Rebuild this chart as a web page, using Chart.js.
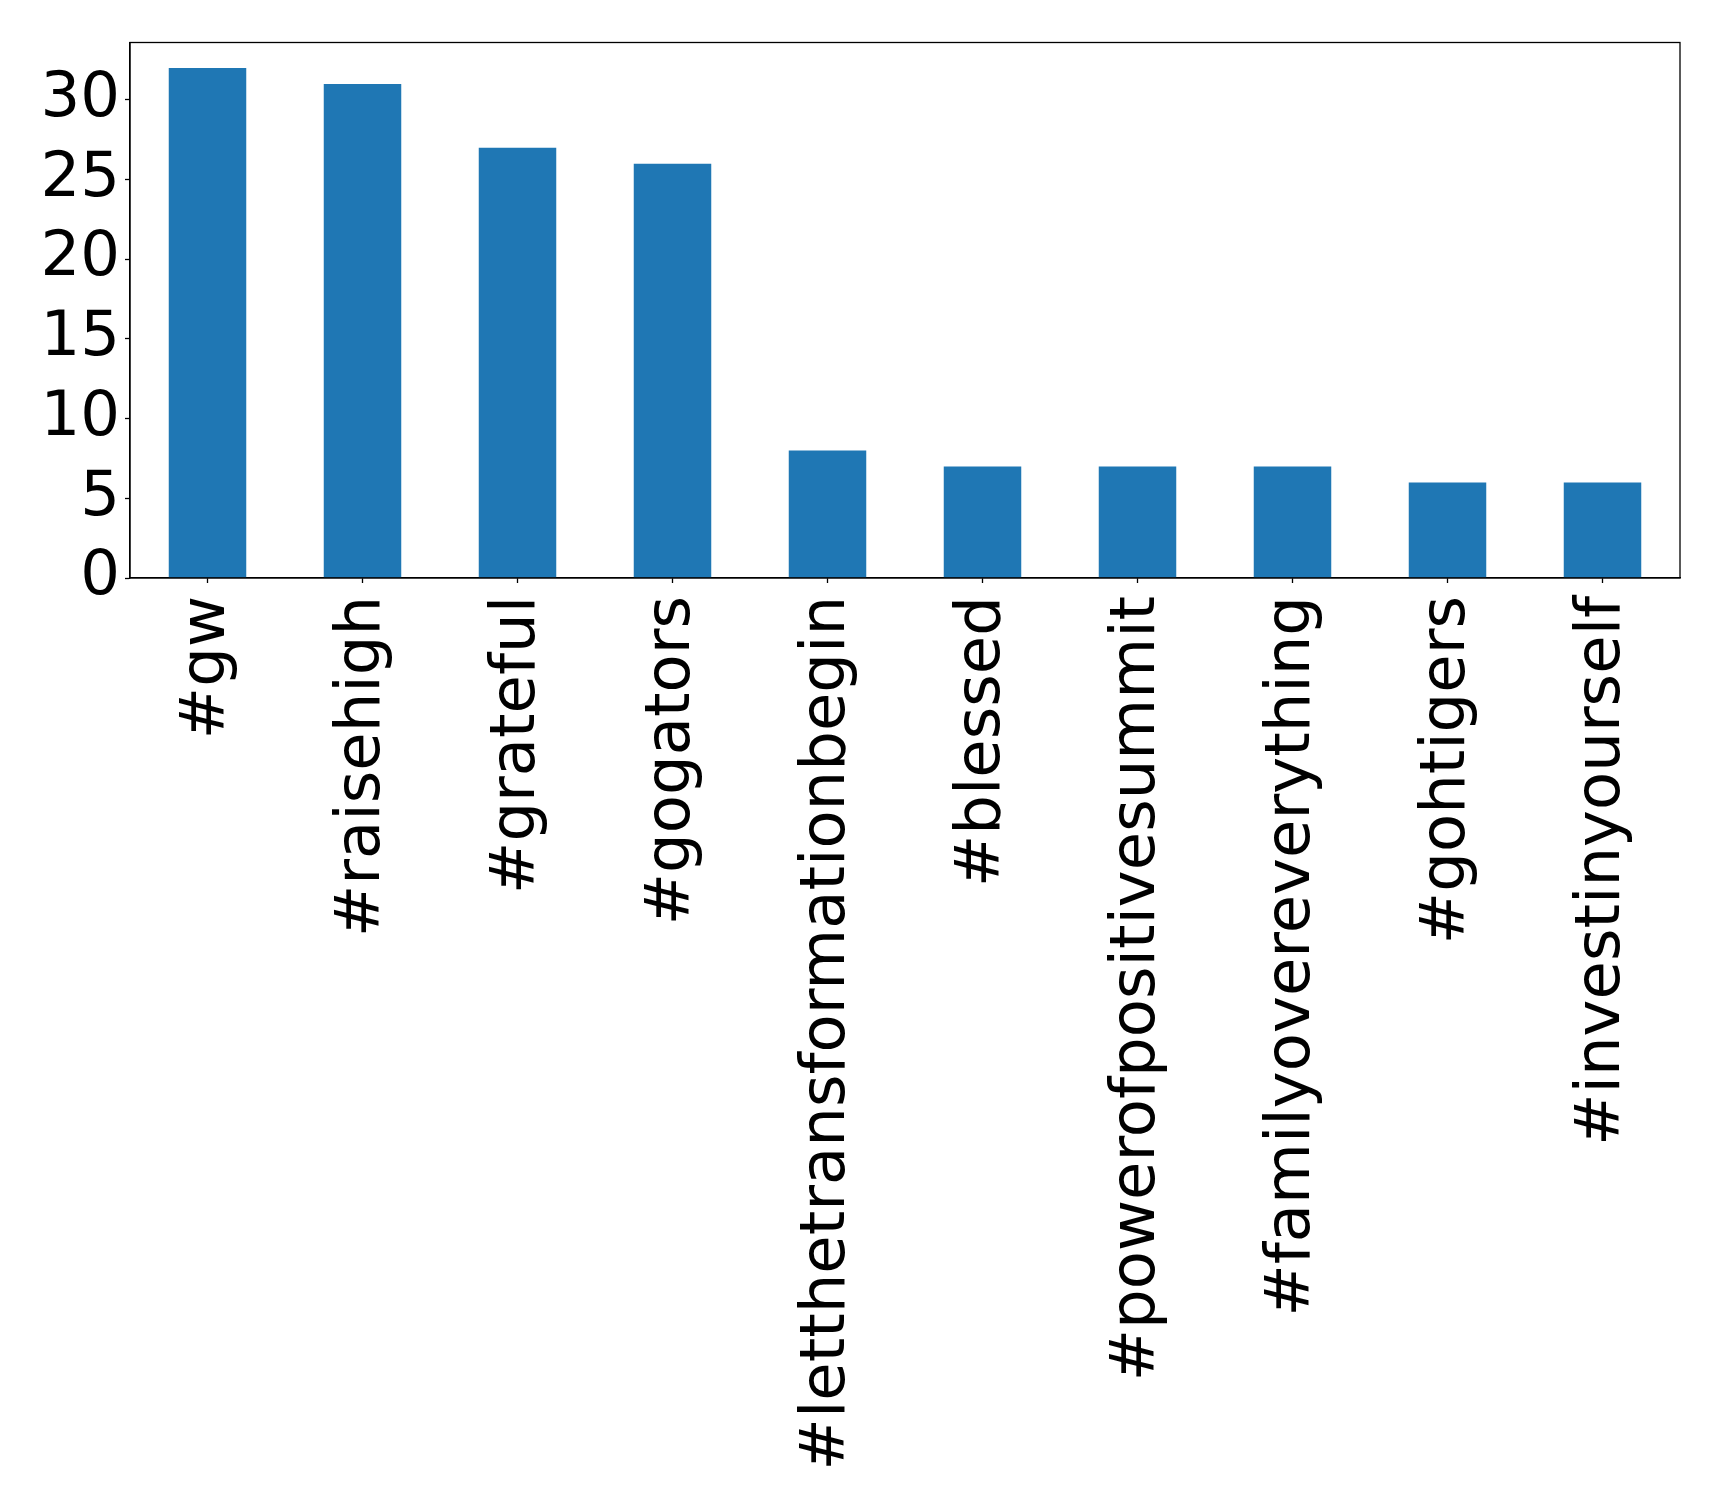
<!DOCTYPE html>
<html>
<head>
<meta charset="utf-8">
<script src="https://cdn.jsdelivr.net/npm/chart.js@4/dist/chart.umd.min.js"></script>
<style>
  html, body { margin: 0; padding: 0; background: #fff; }
  #wrap { width: 1719px; height: 1502px; position: relative; }
</style>
</head>
<body>
<div id="wrap"><canvas id="myChart"></canvas></div>
<script>
const hashtags = ["#gw", "#raisehigh", "#grateful", "#gogators", "#letthetransformationbegin",
  "#blessed", "#powerofpositivesummit", "#familyovereverything", "#gohtigers", "#investinyourself"];
const counts = [32, 31, 27, 26, 8, 7, 7, 7, 6, 6];
const yMax = 33.6;  // matplotlib adds 5% headroom above 32
const yStep = 5;

const tickFont = { family: "'DejaVu Sans'", size: 62.5 };

// draws the top and right edges of the axes box
const frame = {
  id: 'frame',
  afterDraw(chart) {
    const { ctx, chartArea: a } = chart;
    ctx.save();
    ctx.strokeStyle = '#000';
    ctx.lineWidth = 1.3;
    ctx.strokeRect(a.left, a.top, a.right - a.left, a.bottom - a.top);
    ctx.restore();
  }
};

new Chart(document.getElementById('myChart'), {
  type: 'bar',
  data: {
    labels: hashtags,
    datasets: [{
      data: counts,
      backgroundColor: '#1f77b4',
      barPercentage: 0.5,
      categoryPercentage: 1.0
    }]
  },
  options: {
    responsive: true,
    maintainAspectRatio: false,
    animation: false,
    devicePixelRatio: 1,
    layout: { padding: { left: 0, top: 39, right: 39, bottom: 0 } },
    plugins: { legend: { display: false }, tooltip: { enabled: false } },
    scales: {
      x: {
        afterFit(scale) { scale.height = 924; },
        grid: { display: true, offset: false, drawOnChartArea: false, tickLength: 5, tickColor: '#000', tickWidth: 1.3 },
        border: { display: true, color: '#000', width: 1.3 },
        ticks: {
          autoSkip: false,
          maxRotation: 90,
          minRotation: 90,
          padding: 13,
          color: '#000',
          font: tickFont
        }
      },
      y: {
        min: 0,
        max: yMax,
        afterFit(scale) { scale.width = 130; },
        grid: { display: true, drawOnChartArea: false, tickLength: 5, tickColor: '#000', tickWidth: 1.3 },
        border: { display: true, color: '#000', width: 1.3 },
        ticks: {
          stepSize: yStep,
          includeBounds: false,
          padding: 5,
          color: '#000',
          font: tickFont
        }
      }
    }
  },
  plugins: [frame]
});
</script>
</body>
</html>
